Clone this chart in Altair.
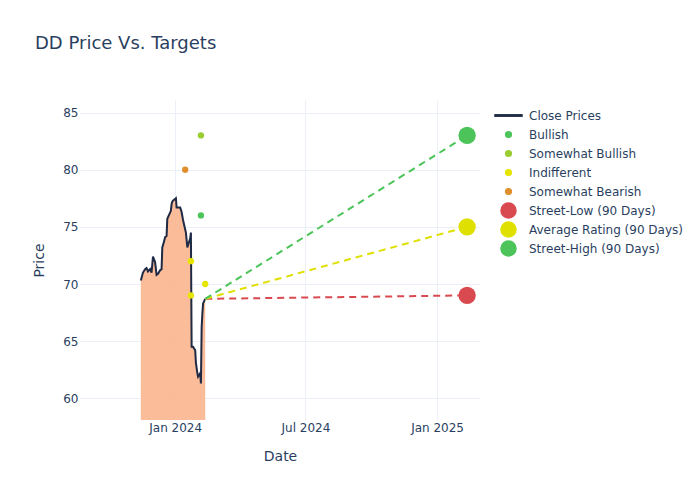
import altair as alt
import pandas as pd

# ---- data ----
close_dates = [
    "2023-11-14", "2023-11-17", "2023-11-20", "2023-11-22", "2023-11-24", "2023-11-27",
    "2023-11-29", "2023-12-01", "2023-12-04", "2023-12-06", "2023-12-08", "2023-12-11",
    "2023-12-13", "2023-12-14", "2023-12-15", "2023-12-18", "2023-12-20", "2023-12-21",
    "2023-12-26", "2023-12-27", "2023-12-28", "2023-12-29", "2024-01-02", "2024-01-03",
    "2024-01-08", "2024-01-10", "2024-01-12", "2024-01-16", "2024-01-18", "2024-01-22",
    "2024-01-23", "2024-01-24", "2024-01-26", "2024-01-29", "2024-01-30", "2024-02-01",
    "2024-02-02", "2024-02-05", "2024-02-06", "2024-02-07", "2024-02-08", "2024-02-09",
    "2024-02-12",
]
close_prices = [
    70.3, 71.0, 71.3, 71.4, 71.1, 71.3,
    71.0, 72.4, 71.9, 70.8, 70.9, 71.2,
    71.3, 73.2, 73.4, 74.1, 74.2, 75.7,
    76.4, 77.0, 77.2, 77.3, 77.5, 76.7,
    76.7, 76.3, 75.6, 74.5, 73.2, 74.0,
    74.5, 64.5, 64.5, 64.2, 63.1, 62.2,
    61.9, 62.2, 61.3, 66.2, 67.4, 68.3,
    68.7,
]

rating_dates = ["2024-01-15", "2024-01-23", "2024-01-23", "2024-02-06", "2024-02-06", "2024-02-12"]
rating_values = [80, 72, 69, 76, 83, 70]
rating_types = ["Somewhat Bearish", "Indifferent", "Indifferent", "Bullish", "Somewhat Bullish", "Indifferent"]

target_names = ["Street-Low (90 Days)", "Average Rating (90 Days)", "Street-High (90 Days)"]
target_values = [69, 75, 83]
target_date = "2025-02-12"

series_names = ["Close Prices", "Bullish", "Somewhat Bullish", "Indifferent", "Somewhat Bearish",
                "Street-Low (90 Days)", "Average Rating (90 Days)", "Street-High (90 Days)"]
series_colors = ["#1f2a44", "#4cc45a", "#9acd32", "#e5e500", "#e08e2b",
                 "#d94a50", "#e0e000", "#4cc45a"]

# legend symbol shapes (unit paths, all drawn at one symbol size)
LINE_SYM = "M0,-1M0,1M-1.8,-0.09L1.8,-0.09L1.8,0.09L-1.8,0.09Z"
DOT_SYM = "M0,-1M0,1M-0.38,0A0.38,0.38,0,1,0,0.38,0A0.38,0.38,0,1,0,-0.38,0Z"
BIG_SYM = "M-1,0A1,1,0,1,0,1,0A1,1,0,1,0,-1,0Z"
series_shapes = [LINE_SYM, DOT_SYM, DOT_SYM, DOT_SYM, DOT_SYM, BIG_SYM, BIG_SYM, BIG_SYM]

# ---- tables ----
close_df = pd.DataFrame({"date": close_dates, "price": close_prices, "series": "Close Prices"})
rating_df = pd.DataFrame({"date": rating_dates, "price": rating_values, "series": rating_types})
target_df = pd.DataFrame({"date": [target_date] * 3, "price": target_values, "series": target_names})
seg_rows = []
for n, v in zip(target_names, target_values):
    seg_rows.append({"date": close_dates[-1], "price": close_prices[-1], "series": n})
    seg_rows.append({"date": target_date, "price": v, "series": n})
seg_df = pd.DataFrame(seg_rows)
legend_df = pd.DataFrame({"series": series_names})

font = "DejaVu Sans"
txt = "#2a3f5f"

x_enc = alt.X("date:T", title="Date",
              scale=alt.Scale(domain=["2023-08-21", "2025-03-02"]),
              axis=alt.Axis(values=[alt.DateTime(year=2024, month=1, date=1),
                                    alt.DateTime(year=2024, month=7, date=1),
                                    alt.DateTime(year=2025, month=1, date=1)],
                            format="%b %Y", labelFlush=False, labelPadding=2))
y_enc = alt.Y("price:Q", title="Price",
              scale=alt.Scale(domain=[58.1, 86.1], zero=False, nice=False),
              axis=alt.Axis(values=[60, 65, 70, 75, 80, 85], labelPadding=2))

color_scale = alt.Scale(domain=series_names, range=series_colors)
shape_scale = alt.Scale(domain=series_names, range=series_shapes)

legend = alt.Legend(title=None, orient="none", legendX=420, legendY=7,
                    labelFont=font, labelFontSize=12, labelColor=txt, labelLimit=300,
                    symbolOpacity=1, symbolSize=225, rowPadding=-2, labelOffset=12)

color_enc = alt.Color("series:N", scale=color_scale, legend=legend)
shape_enc = alt.Shape("series:N", scale=shape_scale, legend=legend)

area = alt.Chart(close_df).mark_area(color="#fbb58f", opacity=0.9, clip=True).encode(
    x=x_enc, y=y_enc, y2=alt.Y2(datum=0)
)
line = alt.Chart(close_df).mark_line(strokeWidth=2, clip=True).encode(
    x=x_enc, y=y_enc, color=color_enc
)
segs = alt.Chart(seg_df).mark_line(strokeWidth=2, strokeDash=[7, 5]).encode(
    x=x_enc, y=y_enc, color=color_enc, detail="series:N"
)
ratings = alt.Chart(rating_df).mark_point(filled=True, opacity=1, size=40, shape="circle").encode(
    x=x_enc, y=y_enc, color=color_enc
)
targets = alt.Chart(target_df).mark_point(filled=True, opacity=1, size=300, shape="circle").encode(
    x=x_enc, y=y_enc, color=color_enc
)
legend_layer = alt.Chart(legend_df).mark_point(filled=True, opacity=0).encode(
    x=alt.value(0), y=alt.value(0), color=color_enc, shape=shape_enc
)

chart = alt.layer(area, line, segs, ratings, targets, legend_layer).properties(
    width=400, height=320,
    autosize=alt.AutoSizeParams(type="none"),
    padding={"left": 72, "top": 92, "right": 212, "bottom": 72},
    title=alt.TitleParams("DD Price Vs. Targets", anchor="start", frame="group",
                          dx=-45, offset=44, font=font, fontSize=18,
                          fontWeight="normal", color=txt),
).configure_view(stroke=None).configure_axis(
    grid=True, gridColor="#ebf0f8", gridWidth=1, domain=False, ticks=False,
    labelFont=font, labelFontSize=12, labelColor=txt,
    titleFont=font, titleFontSize=14, titleColor=txt, titleFontWeight="normal",
).configure_axisX(titlePadding=16).configure_axisY(titlePadding=16)

chart.save("out.html", embed_options={"renderer": "svg", "actions": False})
